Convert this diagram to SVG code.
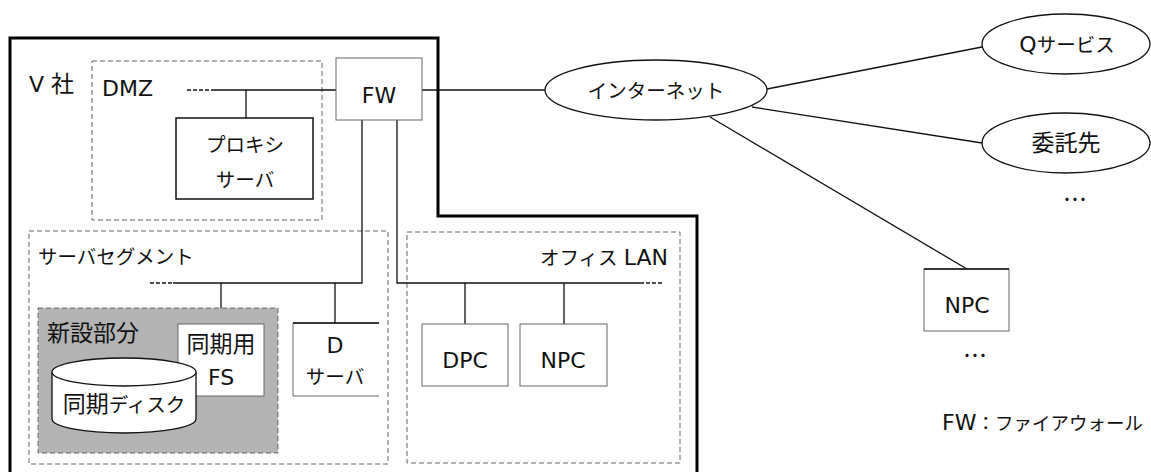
<svg xmlns="http://www.w3.org/2000/svg" width="1151" height="472" viewBox="0 0 1151 472">
<style>
text{font-family:"DejaVu Sans","Noto Sans CJK JP",sans-serif;font-size:19.5px;fill:#111}
.L{font-size:22px}
.k{font-size:23px}
.c{text-anchor:middle}
.seg{fill:none;stroke:#666;stroke-width:1;stroke-dasharray:5,3}
.box{fill:#fff;stroke:#666;stroke-width:1}
.ln{fill:none;stroke:#111;stroke-width:1.3}
.dl{fill:none;stroke:#111;stroke-width:1.3;stroke-dasharray:4,2}
.dots{font-family:"Noto Sans CJK JP",sans-serif;font-size:24px}
</style>
<rect width="1151" height="472" fill="#fff"/>
<g id="v-company">
<polyline points="10,472 10,38 438,38 438,216 697,216 697,472" fill="none" stroke="#000" stroke-width="3"/>
<text x="29" y="92"><tspan class="L">V </tspan><tspan class="k">社</tspan></text>
</g>
<g id="dmz">
<rect class="seg" x="92" y="61" width="230" height="159"/>
<text class="L" x="102" y="96">DMZ</text>
</g>
<g id="server-segment">
<rect class="seg" x="29" y="231" width="359" height="233"/>
<text x="38" y="264">サーバセグメント</text>
</g>
<g id="office-lan">
<rect class="seg" x="407" y="232" width="273" height="231"/>
<text x="668" y="265" text-anchor="end">オフィス <tspan class="L">LAN</tspan></text>
</g>
<g id="connectors">
<line class="dl" x1="187" y1="90" x2="212" y2="90"/>
<line class="ln" x1="212" y1="90" x2="336" y2="90"/>
<line class="ln" x1="246" y1="90" x2="246" y2="118"/>
<line class="ln" x1="422" y1="90" x2="545" y2="90"/>
<polyline class="ln" points="362,120 362,283 173,283"/>
<line class="dl" x1="150" y1="283" x2="173" y2="283"/>
<line class="ln" x1="221" y1="283" x2="221" y2="324"/>
<line class="ln" x1="335" y1="283" x2="335" y2="323"/>
<polyline class="ln" points="397,120 397,283 640,283"/>
<line class="dl" x1="640" y1="283" x2="663" y2="283"/>
<line class="ln" x1="465" y1="283" x2="465" y2="324"/>
<line class="ln" x1="564" y1="283" x2="564" y2="324"/>
<line class="ln" x1="767" y1="89" x2="982" y2="47"/>
<line class="ln" x1="752" y1="107" x2="982" y2="143"/>
<line class="ln" x1="710" y1="117" x2="967" y2="269"/>
</g>
<g id="proxy-server">
<rect x="176" y="118" width="137" height="81" fill="#fff" stroke="#111" stroke-width="1.5"/>
<text class="c" x="245" y="152">プロキシ</text>
<text class="c" x="245" y="187">サーバ</text>
</g>
<g id="fw">
<rect class="box" x="336" y="58" width="86" height="62"/>
<text class="c L" x="379" y="103">FW</text>
</g>
<g id="new-section">
<rect x="38" y="308" width="240" height="145" fill="#b3b3b3" stroke="#666" stroke-width="1" stroke-dasharray="5,3"/>
<text class="k" x="47" y="341">新設部分</text>
</g>
<g id="sync-fs">
<rect class="box" x="178" y="324" width="86" height="72"/>
<text class="c k" x="221" y="352">同期用</text>
<text class="c L" x="221" y="385">FS</text>
</g>
<g id="sync-disk">
<path d="M52,372 L52,419 A72,14 0 0 0 196,419 L196,372" fill="#fff" stroke="#111" stroke-width="1.3"/>
<ellipse cx="124" cy="372" rx="72" ry="14" fill="#fff" stroke="#111" stroke-width="1.3"/>
<text class="c" x="124" y="412"><tspan class="k">同期</tspan>ディスク</text>
</g>
<g id="d-server">
<path d="M379,323 L293,323 L293,396 L379,396" fill="#fff" stroke="#666" stroke-width="1"/>
<line x1="293" y1="323" x2="379" y2="323" stroke="#111" stroke-width="1.3"/>
<text class="c L" x="335" y="353">D</text>
<text class="c" x="335" y="384">サーバ</text>
</g>
<g id="dpc">
<rect class="box" x="422" y="324" width="86" height="62"/>
<text class="c L" x="465" y="368">DPC</text>
</g>
<g id="npc-office">
<rect class="box" x="520" y="324" width="87" height="62"/>
<text class="c L" x="563" y="368">NPC</text>
</g>
<g id="internet">
<ellipse cx="656" cy="90" rx="111" ry="30" fill="#fff" stroke="#111" stroke-width="1.3"/>
<text class="c" x="656" y="98">インターネット</text>
</g>
<g id="q-service">
<ellipse cx="1066" cy="44" rx="84" ry="30" fill="#fff" stroke="#111" stroke-width="1.3"/>
<text class="c" x="1067" y="52"><tspan class="L">Q</tspan>サービス</text>
</g>
<g id="contractor">
<ellipse cx="1066" cy="143" rx="84" ry="30" fill="#fff" stroke="#111" stroke-width="1.3"/>
<text class="c k" x="1066" y="151">委託先</text>
</g>
<text class="c dots" x="1075" y="208">…</text>
<g id="npc-external">
<rect class="box" x="924" y="269" width="85" height="62"/>
<line x1="924" y1="269" x2="1009" y2="269" stroke="#111" stroke-width="1.5"/>
<text class="c L" x="967" y="313">NPC</text>
</g>
<text class="c dots" x="975" y="364">…</text>
<g id="legend">
<text x="942" y="430" style="font-size:18.5px"><tspan class="L">FW</tspan>：ファイアウォール</text>
</g>
</svg>
